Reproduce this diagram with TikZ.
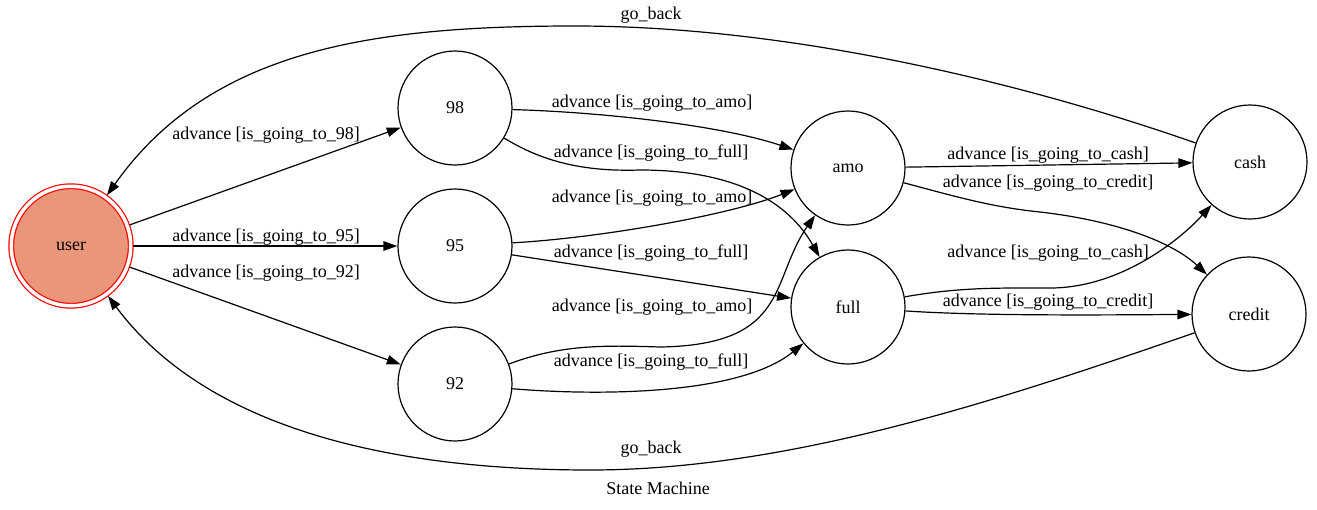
\documentclass[tikz,border=0pt]{standalone}
\usepackage{fontspec}
\setmainfont{Liberation Serif}
\usetikzlibrary{arrows.meta}
\definecolor{darksalmon}{HTML}{E9967A}

\begin{document}
\begin{tikzpicture}[x=1pt,y=-1pt,
  font=\fontsize{18}{20}\selectfont,
  st/.style={circle,draw,line width=1.2pt,minimum size=114pt,inner sep=0pt},
  fin/.style={st,draw=red,fill=darksalmon,double,double distance=3.5pt,minimum size=119.5pt,outer sep=2.4pt},
  arr/.style={-{Triangle[length=14pt,width=9.5pt]},line width=1.2pt},
  lbl/.style={inner sep=0pt}]

\useasboundingbox (0,0) rectangle (1317,509);

\node[fin] (user) at (71,246) {user};
\node[st] (n98) at (455,108) {98};
\node[st] (n95) at (455,246) {95};% средний столбец
\node[st] (n92) at (455,384) {92};
\node[st] (amo) at (848,168) {amo};
\node[st] (full) at (848,307) {full};
\node[st] (cash) at (1250,162) {cash};
\node[st] (credit) at (1249,314) {credit};

\coordinate (top) at (575,26);% вершины дуг go_back
\coordinate (bot) at (590,470);

\draw[arr] (user) -- (n98);
\draw[arr] (user) -- (n95);
\draw[arr] (user) -- (n92);

\draw[arr] (n98) .. controls (600,112) and (720,125) .. (amo);
\draw[arr] (n98) .. controls (540,160) and (580,172) .. (640,170) .. controls (740,170) and (790,205) .. (full);
\draw[arr] (n95) .. controls (600,238) and (730,215) .. (amo);
\draw[arr] (n95) -- (full);
\draw[arr] (n92) .. controls (560,345) and (600,345) .. (660,347) .. controls (790,345) and (770,280) .. (amo);
\draw[arr] (n92) .. controls (600,396) and (740,395) .. (full);

\draw[arr] (amo) -- (cash);
\draw[arr] (amo) .. controls (950,195) and (990,207) .. (1040,212) .. controls (1110,220) and (1170,240) .. (credit);
\draw[arr] (full) .. controls (960,287) and (1000,288) .. (1050,288) .. controls (1120,288) and (1180,240) .. (cash);
\draw[arr] (full) .. controls (980,316) and (1100,315) .. (credit);

\draw[arr] (cash) .. controls (1010,78) and (780,26) .. (top) .. controls (370,26) and (210,50) .. (user);% возврат сверху
\draw[arr] (credit) .. controls (1000,400) and (790,470) .. (bot) .. controls (370,470) and (200,420) .. (user);% возврат снизу

\node[lbl] (l98) at (266,135) {advance [is\_going\_to\_98]};
\node[lbl] (l95) at (266,237) {advance [is\_going\_to\_95]};
\node[lbl] (l92) at (266,273) {advance [is\_going\_to\_92]};
\node[lbl] (la1) at (652,103) {advance [is\_going\_to\_amo]};
\node[lbl] (lf1) at (651,153) {advance [is\_going\_to\_full]};
\node[lbl] (la2) at (652,198) {advance [is\_going\_to\_amo]};
\node[lbl] (lf2) at (651,253) {advance [is\_going\_to\_full]};
\node[lbl] (la3) at (652,307) {advance [is\_going\_to\_amo]};
\node[lbl] (lf3) at (651,362) {advance [is\_going\_to\_full]};
\node[lbl] (lc1) at (1048,155) {advance [is\_going\_to\_cash]};
\node[lbl] (lr1) at (1048,183) {advance [is\_going\_to\_credit]};
\node[lbl] (lc2) at (1048,253) {advance [is\_going\_to\_cash]};
\node[lbl] (lr2) at (1048,302) {advance [is\_going\_to\_credit]};
\node[lbl] (gb1) at (651,15) {go\_back};
\node[lbl] (gb2) at (651,449) {go\_back};
\node[lbl] (title) at (658,488) {State Machine};% подпись

\end{tikzpicture}
\end{document}
